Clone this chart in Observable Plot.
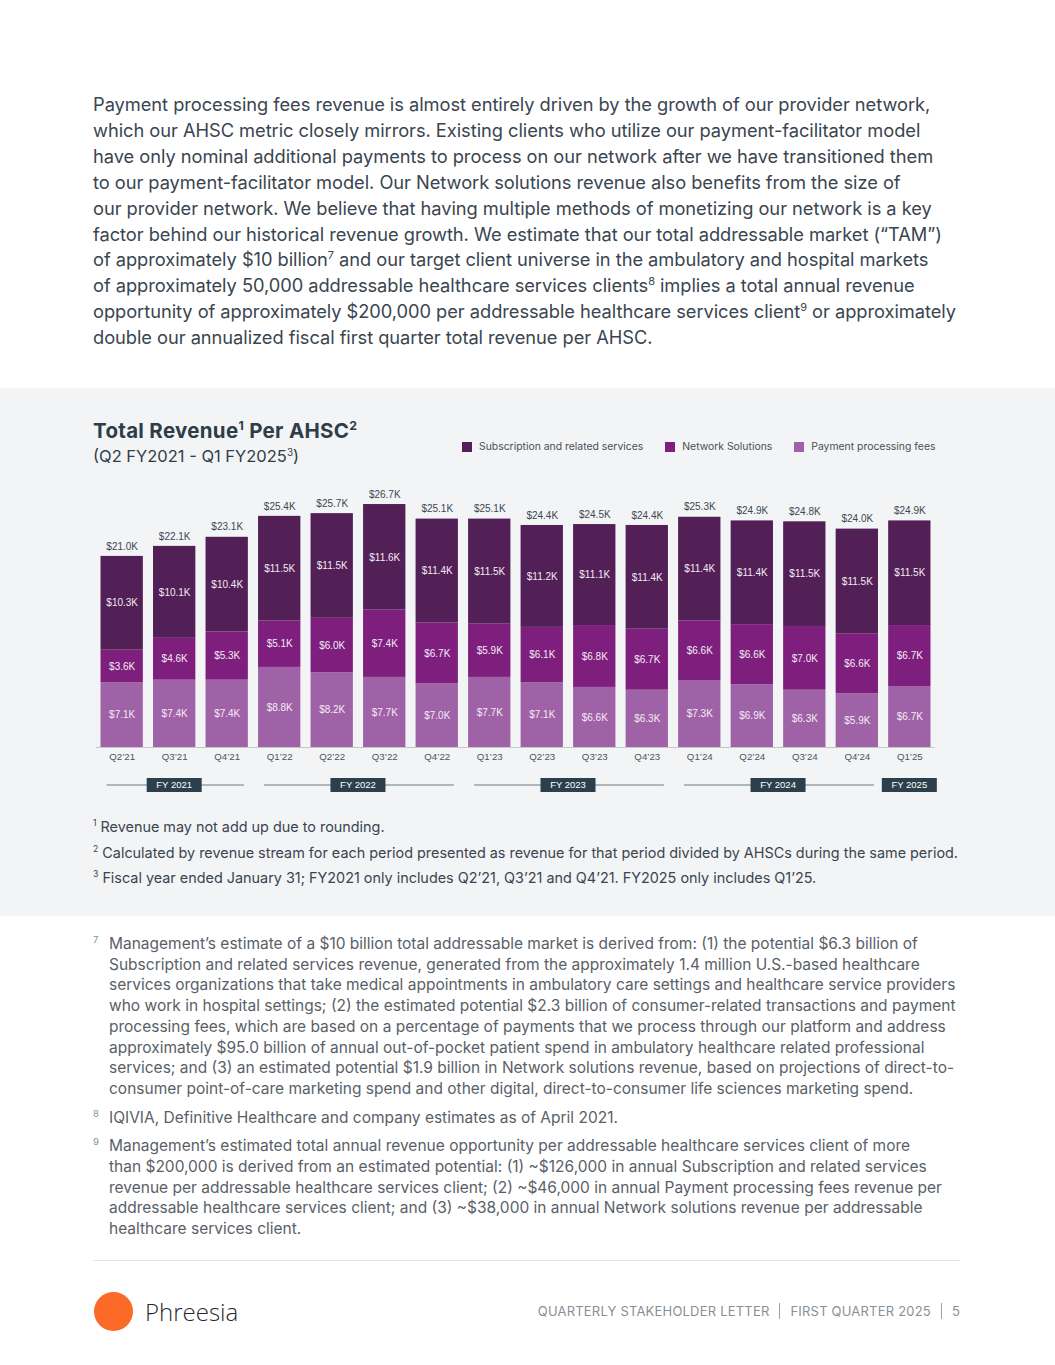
<!DOCTYPE html>
<html>
<head>
<meta charset="utf-8">
<script src="https://cdn.jsdelivr.net/npm/d3@7"></script>
<script src="https://cdn.jsdelivr.net/npm/@observablehq/plot@0.6"></script>
<style>
  html, body { margin: 0; padding: 0; background: #ffffff; }
  body { width: 1055px; height: 1365px; position: relative; overflow: hidden; font-family: Inter, "Noto Sans", sans-serif; }
  .abs { position: absolute; }
  #para { left: 93px; top: 92px; font-size: 18.3px; line-height: 25.9px; color: #3a4550; white-space: nowrap; letter-spacing: -0.05px; }
  #panel { left: 0; top: 388px; width: 1055px; height: 528px; background: #f3f4f6; }
  #title { left: 93px; top: 418px; font-size: 20.5px; font-weight: 700; color: #2e3d48; white-space: nowrap; letter-spacing: 0.3px; }
  #subtitle { left: 93px; top: 446px; font-size: 16.5px; color: #2e3d48; white-space: nowrap; }
  sup { font-size: 0.6em; line-height: 0; vertical-align: 0.65em; }
  #legend { top: 440px; left: 462px; font-size: 10.4px; color: #4a4f55; white-space: nowrap; display: flex; }
  #legend span.item { display: inline-flex; align-items: center; margin-right: 22px; }
  #legend span.sw { width: 10px; height: 10px; display: inline-block; margin-right: 7px; }
  #chart { left: 0; top: 464px; }
  #cnotes { left: 93px; top: 817px; font-size: 14.4px; color: #3a4550; white-space: nowrap; }
  #cnotes div { height: 25.5px; line-height: 20px; }
  #fnotes { left: 93px; top: 934px; font-size: 15.5px; line-height: 20.7px; color: #5a6068; white-space: nowrap; }
  #fnotes .fn { position: relative; padding-left: 16px; margin-bottom: 8px; }
  #fnotes .num { position: absolute; left: 0; top: -4px; font-size: 9.5px; color: #8a8f95; }
  #rule { left: 93px; top: 1260px; width: 867px; height: 1px; background: #e2e4e6; }
  #logo { left: 94px; top: 1292px; width: 39px; height: 39px; border-radius: 50%; background: #fb6a26; }
  #brand { left: 145px; top: 1295px; font-size: 24px; font-family: "Open Sans", sans-serif; font-weight: 300; color: #1f2a33; }
  #footer { right: 95px; top: 1303px; font-size: 13px; color: #8a8f95; white-space: nowrap; letter-spacing: 0.2px; }
  #footer .bar { display: inline-block; width: 1px; height: 16px; background: #9aa0a6; vertical-align: -3px; margin: 0 10px; }
</style>
</head>
<body>
<div id="para" class="abs">
Payment processing fees revenue is almost entirely driven by the growth of our provider network,<br>
which our AHSC metric closely mirrors. Existing clients who utilize our payment-facilitator model<br>
have only nominal additional payments to process on our network after we have transitioned them<br>
to our payment-facilitator model. Our Network solutions revenue also benefits from the size of<br>
our provider network. We believe that having multiple methods of monetizing our network is a key<br>
factor behind our historical revenue growth. We estimate that our total addressable market (“TAM”)<br>
of approximately $10 billion<sup>7</sup> and our target client universe in the ambulatory and hospital markets<br>
of approximately 50,000 addressable healthcare services clients<sup>8</sup> implies a total annual revenue<br>
opportunity of approximately $200,000 per addressable healthcare services client<sup>9</sup> or approximately<br>
double our annualized fiscal first quarter total revenue per AHSC.
</div>

<div id="panel" class="abs"></div>
<div id="title" class="abs">Total Revenue<sup>1</sup> Per AHSC<sup>2</sup></div>
<div id="subtitle" class="abs">(Q2 FY2021 - Q1 FY2025<sup>3</sup>)</div>
<div id="legend" class="abs"></div>
<div id="chart" class="abs"></div>
<div id="cnotes" class="abs">
  <div><sup>1</sup> Revenue may not add up due to rounding.</div>
  <div><sup>2</sup> Calculated by revenue stream for each period presented as revenue for that period divided by AHSCs during the same period.</div>
  <div><sup>3</sup> Fiscal year ended January 31; FY2021 only includes Q2’21, Q3’21 and Q4’21. FY2025 only includes Q1’25.</div>
</div>

<div id="fnotes" class="abs">
  <div class="fn"><span class="num">7</span>Management’s estimate of a $10 billion total addressable market is derived from: (1) the potential $6.3 billion of<br>
Subscription and related services revenue, generated from the approximately 1.4 million U.S.-based healthcare<br>
services organizations that take medical appointments in ambulatory care settings and healthcare service providers<br>
who work in hospital settings; (2) the estimated potential $2.3 billion of consumer-related transactions and payment<br>
processing fees, which are based on a percentage of payments that we process through our platform and address<br>
approximately $95.0 billion of annual out-of-pocket patient spend in ambulatory healthcare related professional<br>
services; and (3) an estimated potential $1.9 billion in Network solutions revenue, based on projections of direct-to-<br>
consumer point-of-care marketing spend and other digital, direct-to-consumer life sciences marketing spend.</div>
  <div class="fn"><span class="num">8</span>IQIVIA, Definitive Healthcare and company estimates as of April 2021.</div>
  <div class="fn"><span class="num">9</span>Management’s estimated total annual revenue opportunity per addressable healthcare services client of more<br>
than $200,000 is derived from an estimated potential: (1) ~$126,000 in annual Subscription and related services<br>
revenue per addressable healthcare services client; (2) ~$46,000 in annual Payment processing fees revenue per<br>
addressable healthcare services client; and (3) ~$38,000 in annual Network solutions revenue per addressable<br>
healthcare services client.</div>
</div>

<div id="rule" class="abs"></div>
<div id="logo" class="abs"></div>
<div id="brand" class="abs">Phreesia</div>
<div id="footer" class="abs">QUARTERLY STAKEHOLDER LETTER<span class="bar"></span>FIRST QUARTER 2025<span class="bar"></span>5</div>

<script>
// ---- Data (values in $K per AHSC) ----
const quarters = ["Q2’21","Q3’21","Q4’21","Q1’22","Q2’22","Q3’22","Q4’22","Q1’23","Q2’23","Q3’23","Q4’23","Q1’24","Q2’24","Q3’24","Q4’24","Q1’25"];
const subscription = [10.3,10.1,10.4,11.5,11.5,11.6,11.4,11.5,11.2,11.1,11.4,11.4,11.4,11.5,11.5,11.5];
const network      = [3.6, 4.6, 5.3, 5.1, 6.0, 7.4, 6.7, 5.9, 6.1, 6.8, 6.7, 6.6, 6.6, 7.0, 6.6, 6.7];
const payment      = [7.1, 7.4, 7.4, 8.8, 8.2, 7.7, 7.0, 7.7, 7.1, 6.6, 6.3, 7.3, 6.9, 6.3, 5.9, 6.7];
const totals       = [21.0,22.1,23.1,25.4,25.7,26.7,25.1,25.1,24.4,24.5,24.4,25.3,24.9,24.8,24.0,24.9];
const seriesNames  = ["Payment processing fees","Network Solutions","Subscription and related services"];
const seriesColors = ["#a062a6","#7e1f7e","#521f56"];
const legendOrder  = ["Subscription and related services","Network Solutions","Payment processing fees"];
const fiscalYears  = [
  {label: "FY 2021", first: "Q2’21", last: "Q4’21"},
  {label: "FY 2022", first: "Q1’22", last: "Q4’22"},
  {label: "FY 2023", first: "Q1’23", last: "Q4’23"},
  {label: "FY 2024", first: "Q1’24", last: "Q4’24"},
  {label: "FY 2025", first: "Q1’25", last: "Q1’25"}
];

// long table, bottom-to-top stacking order
const seriesValues = [payment, network, subscription];
const table = [];
seriesNames.forEach((s, si) => quarters.forEach((q, i) => table.push({quarter: q, series: s, value: seriesValues[si][i]})));
const totalRows = quarters.map((q, i) => ({quarter: q, total: totals[i], top: payment[i] + network[i] + subscription[i]}));

const fmt = v => "$" + v.toFixed(1) + "K";

// legend
const legend = document.getElementById("legend");
legendOrder.forEach(s => {
  const item = document.createElement("span");
  item.className = "item";
  item.innerHTML = `<span class="sw" style="background:${seriesColors[seriesNames.indexOf(s)]}"></span>${s}`;
  legend.appendChild(item);
});

const chart = Plot.plot({
  width: 1055,
  height: 333,
  marginLeft: 96,
  marginRight: 120,
  marginTop: 10,
  marginBottom: 50,
  style: {background: "transparent", fontFamily: "'Liberation Sans', Arial, sans-serif"},
  x: {domain: quarters, paddingInner: 0.194, paddingOuter: 0.086, round: false, label: null},
  y: {domain: [0, 30], axis: null},
  color: {domain: seriesNames, range: seriesColors},
  marks: [
    Plot.barY(table, {x: "quarter", y: "value", fill: "series", order: seriesNames}),
    Plot.text(table, Plot.stackY({x: "quarter", y: "value", z: "series", order: seriesNames,
      text: d => fmt(d.value), fill: "#f4eaf4", fontSize: 10})),
    Plot.text(totalRows, {x: "quarter", y: "top", text: d => fmt(d.total), dy: -10, fill: "#3c4750", fontSize: 10}),
    Plot.ruleY([0], {stroke: "#c4c8cc"}),
    Plot.axisX({tickSize: 0, tickPadding: 6, fontSize: 9.7, fill: "#4a545c"})
  ]
});
document.getElementById("chart").appendChild(chart);

// fiscal-year brackets positioned with the chart's own x scale
const xs = chart.scale("x");
const bw = xs.bandwidth;
const svg = d3.select(chart);
const gy = 321;
const g = svg.append("g");
fiscalYears.forEach(fy => {
  const x1 = xs.apply(fy.first);
  const x2 = xs.apply(fy.last) + bw;
  const cx = (x1 + x2) / 2;
  g.append("line").attr("x1", x1 + 6).attr("x2", x2 - 4).attr("y1", gy).attr("y2", gy)
    .attr("stroke", "#9aa3a8").attr("stroke-width", 1.5);
  g.append("rect").attr("x", cx - 27.5).attr("y", gy - 7).attr("width", 55).attr("height", 14).attr("fill", "#2b3f4c");
  g.append("text").attr("x", cx).attr("y", gy).attr("dy", "0.35em").attr("text-anchor", "middle")
    .attr("fill", "#ffffff").attr("font-size", 9.5).attr("font-family", "'Liberation Sans', Arial, sans-serif").text(fy.label);
});
</script>
</body>
</html>
